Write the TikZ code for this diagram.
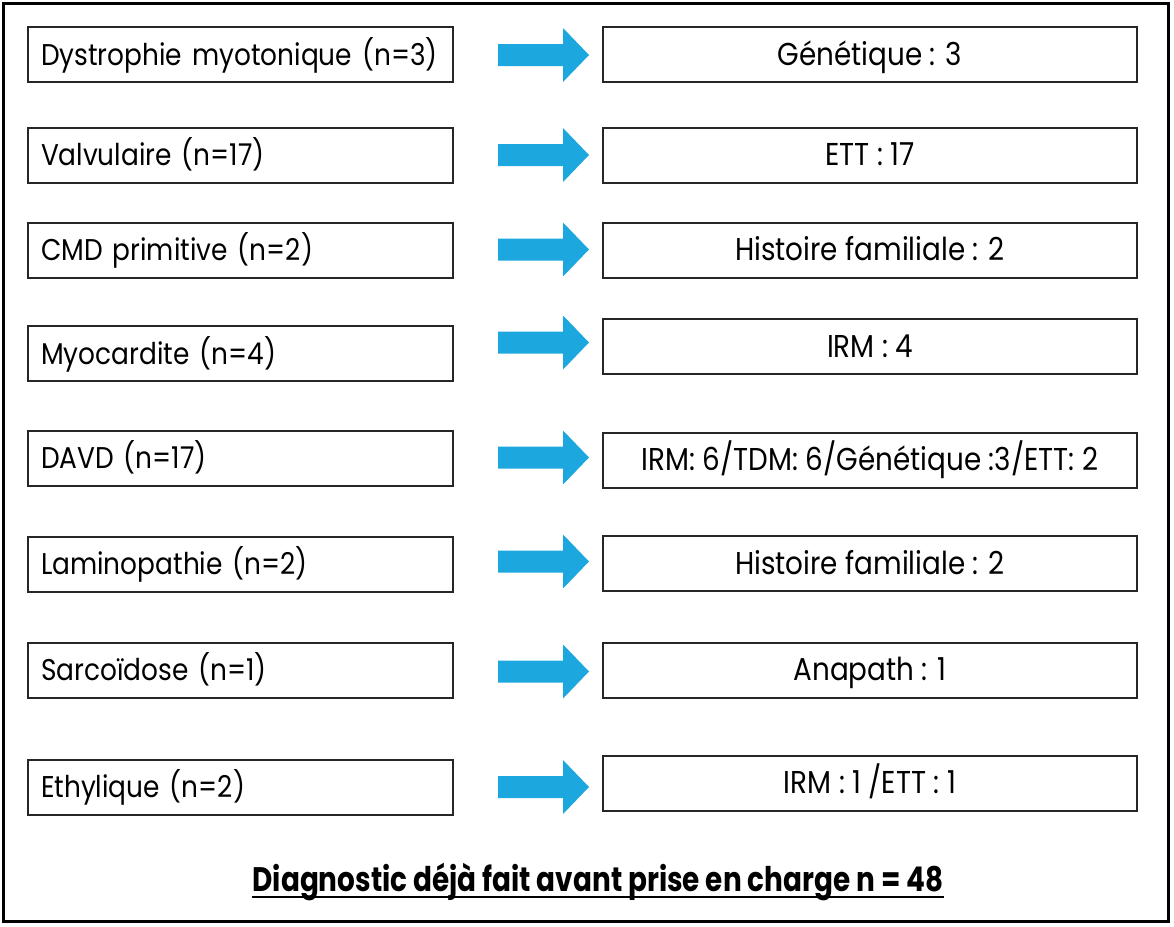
\documentclass[tikz,border=0pt]{standalone}
\usepackage{fontspec}
\setmainfont{Poppins}[FakeStretch=0.88]
\newfontfamily\totalfont{Poppins}[FakeStretch=0.82]
\usetikzlibrary{calc}
\definecolor{arrowblue}{RGB}{28,167,222}
\tikzset{
  leftbox/.style={draw=black!85,line width=1pt,minimum height=27.5pt,text width=199.5pt,inner xsep=6.5pt,
    align=left,text height=10.5pt,text depth=0pt,font=\fontsize{15}{18}\selectfont},
  rightbox/.style={draw=black!85,line width=1pt,minimum width=267pt,minimum height=27.5pt,
    align=center,text height=10.8pt,text depth=0pt,font=\fontsize{15.8}{18}\selectfont},
  bluearrow/.pic={\fill[arrowblue] (0,-11) -- (65,-11) -- (65,-27) -- (91,0) -- (65,27) -- (65,11) -- (0,11) -- cycle;}
}

\begin{document}
\begin{tikzpicture}[x=0.5pt,y=-0.5pt]
    \useasboundingbox (0,0) rectangle (1174,927);
    \draw[line width=1.5pt] (3,3) rectangle (1168,921);

    \node[leftbox] (l1) at (240.5,54.5) {Dystrophie myotonique (n=3)};
    \node[rightbox] (r1) at (870,54.5) {Génétique : 3};
    \pic at ($(l1.east)+(44,0.5)$) {bluearrow};

    \node[leftbox] (l2) at (240.5,155) {Valvulaire (n=17)};
    \node[rightbox] (r2) at (870,155) {ETT : 17};
    \pic at ($(l2.east)+(44,0)$) {bluearrow};

    \node[leftbox] (l3) at (240.5,250) {CMD primitive (n=2)};
    \node[rightbox] (r3) at (870,250) {Histoire familiale : 2};
    \pic at ($(l3.east)+(44,-0.5)$) {bluearrow};

    \node[leftbox] (l4) at (240.5,353.5) {Myocardite (n=4)};
    \node[rightbox] (r4) at (870,346.5) {IRM : 4};
    \pic at ($(l4.east)+(44,-11)$) {bluearrow};

    \node[leftbox] (l5) at (240.5,458) {DAVD (n=17)};
    \node[rightbox] (r5) at (870,460) {IRM: 6/TDM: 6/Génétique :3/ETT: 2};
    \pic at ($(l5.east)+(44,-0.5)$) {bluearrow};

    \node[leftbox] (l6) at (240.5,564) {Laminopathie (n=2)};
    \node[rightbox] (r6) at (870,563.5) {Histoire familiale : 2};
    \pic at ($(l6.east)+(44,-2.5)$) {bluearrow};

    \node[leftbox] (l7) at (240.5,670) {Sarcoïdose (n=1)};
    \node[rightbox] (r7) at (870,670) {Anapath : 1};
    \pic at ($(l7.east)+(44,1.5)$) {bluearrow};

    \node[leftbox] (l8) at (240.5,787) {Ethylique (n=2)};
    \node[rightbox] (r8) at (870,783) {IRM : 1 /ETT : 1};
    \pic at ($(l8.east)+(44,0)$) {bluearrow};

    \node[anchor=base,inner sep=0pt,font=\totalfont\bfseries\fontsize{17}{20}\selectfont] (total) at (598,891)
      {Diagnostic déjà fait avant prise en charge n = 48};
    \draw[line width=1.2pt] ($(total.base west)+(0,6)$) -- ($(total.base east)+(0,6)$);
  \end{tikzpicture}
\end{document}
